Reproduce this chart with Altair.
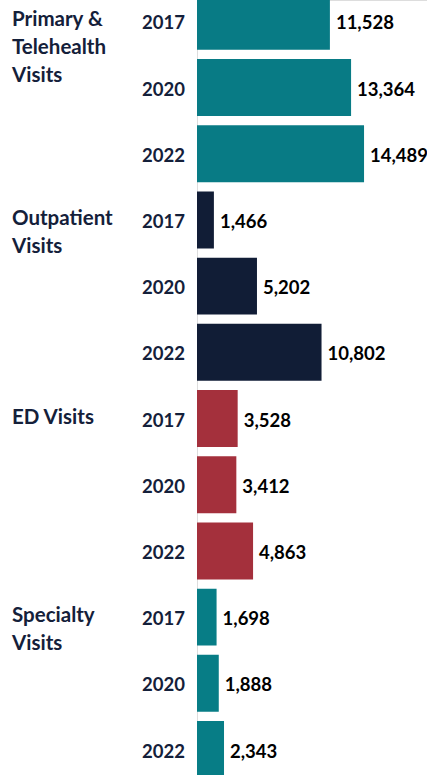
import altair as alt
import pandas as pd

categories = ["Primary & Telehealth Visits", "Outpatient Visits", "ED Visits", "Specialty Visits"]
category_labels = ["Primary &\nTelehealth\nVisits", "Outpatient\nVisits", "ED Visits", "Specialty\nVisits"]
years = ["2017", "2020", "2022"]
primary = [11528, 13364, 14489]
outpatient = [1466, 5202, 10802]
ed = [3528, 3412, 4863]
specialty = [1698, 1888, 2343]
colors = ["#087B85", "#111D36", "#A4303C", "#077D86"]

series = [primary, outpatient, ed, specialty]
rows = []
for g, (cat, vals) in enumerate(zip(categories, series)):
    for k, (yr, v) in enumerate(zip(years, vals)):
        rows.append({"category": cat, "year": yr, "value": v, "row": g * 3 + k})
df = pd.DataFrame(rows)

cat_df = pd.DataFrame({
    "category": categories,
    "label": category_labels,
    "row": [g * 3 for g in range(len(categories))],
})

yscale = alt.Scale(domain=[-0.322, 11.385], reverse=True, nice=False, zero=False)
xscale = alt.Scale(domain=[0, 19950], nice=False)

base = alt.Chart(df)

bars = base.transform_calculate(
    y0="datum.row - 0.43", y1="datum.row + 0.43"
).mark_bar(clip=True).encode(
    x=alt.X("value:Q", scale=xscale, axis=None),
    x2=alt.datum(0),
    y=alt.Y("y0:Q", scale=yscale, axis=None),
    y2="y1:Q",
    color=alt.Color("category:N", scale=alt.Scale(domain=categories, range=colors), legend=None),
)

values = base.mark_text(
    align="left", baseline="middle", dx=6, dy=2, font="Lato", fontWeight="bold",
    fontSize=18.5, color="#000000",
).encode(
    x=alt.X("value:Q", scale=xscale, axis=None),
    y=alt.Y("row:Q", scale=yscale, axis=None),
    text=alt.Text("value:Q", format=",d"),
)

year_labels = base.mark_text(
    align="right", baseline="middle", dy=2, font="Lato", fontWeight="bold",
    fontSize=18.5, color="#14203A",
).encode(
    x=alt.value(-12),
    y=alt.Y("row:Q", scale=yscale, axis=None),
    text="year:N",
)

cat_text = alt.Chart(cat_df).mark_text(
    align="left", baseline="top", dy=-11, font="Lato", fontWeight="bold",
    fontSize=20.5, color="#14203A", lineBreak="\n", lineHeight=28,
).encode(
    x=alt.value(-185),
    y=alt.Y("row:Q", scale=yscale, axis=None),
    text="label:N",
)

chart = alt.layer(bars, values, year_labels, cat_text).properties(
    width=230, height=775,
    padding={"left": 197, "top": 0, "right": 0, "bottom": 0},
    autosize=alt.AutoSizeParams(type="none"),
).configure_view(stroke=None).configure(background="white")

chart.save("out.html", embed_options={"renderer": "svg", "actions": False})
